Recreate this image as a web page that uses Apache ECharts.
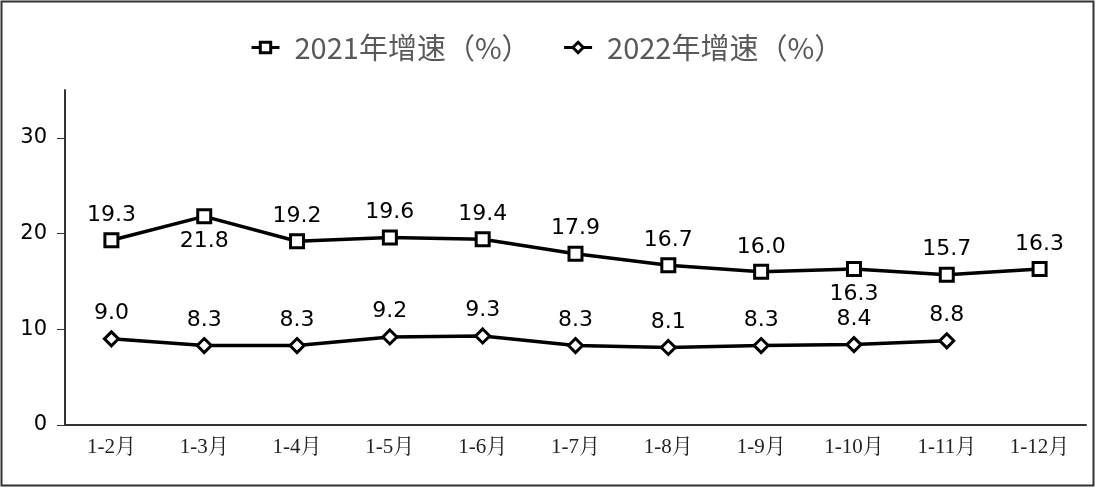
<!DOCTYPE html>
<html><head><meta charset="utf-8">
<script src="https://cdn.jsdelivr.net/npm/echarts@6/dist/echarts.min.js"></script>
<style>html,body{margin:0;padding:0;background:#fff}#c{width:1096px;height:488px}</style>
</head><body><div id="c"></div>
<script>
const categories = ['1-2月','1-3月','1-4月','1-5月','1-6月','1-7月','1-8月','1-9月','1-10月','1-11月','1-12月'];
const growth2021 = [19.3,21.8,19.2,19.6,19.4,17.9,16.7,16.0,16.3,15.7,16.3];
const growth2022 = [9.0,8.3,8.3,9.2,9.3,8.3,8.1,8.3,8.4,8.8,null];
const yTicks = [0,10,20,30];
const labelBelow2021 = ['1-3月','1-10月'];

const chart = echarts.init(document.getElementById('c'));
const lbl = {show:true,fontFamily:'DejaVu Sans',fontSize:22,color:'#000',distance:6,formatter:p=>p.value==null?'':p.value.toFixed(1)};
chart.setOption({
  animation:false,
  graphic:[{type:'rect',shape:{x:1.5,y:1.5,width:1092,height:484},style:{fill:'none',stroke:'#333',lineWidth:2},silent:true}],
  legend:{top:28,left:245,itemWidth:28,itemHeight:13,itemGap:32,
    itemStyle:{borderWidth:3},lineStyle:{width:3},
    textStyle:{fontFamily:'Noto Sans CJK SC',fontSize:29,color:'#595959',padding:[0,0,0,10]}},
  grid:{left:65,right:10,top:90,bottom:63},
  xAxis:{type:'category',data:categories,boundaryGap:true,
    axisLine:{lineStyle:{color:'#333',width:2}},axisTick:{show:false},
    axisLabel:{fontFamily:'Liberation Serif, Noto Serif CJK SC, serif',fontSize:21,color:'#222',margin:12}},
  yAxis:{type:'value',min:0,max:35,interval:10,
    axisLine:{show:true,lineStyle:{color:'#333',width:2}},
    axisTick:{show:true,length:8,lineStyle:{color:'#333'},customValues:yTicks},
    axisLabel:{fontFamily:'DejaVu Sans',fontSize:21,color:'#000',margin:18,customValues:yTicks},
    splitLine:{show:false}},
  series:[
    {name:'2021年增速（%）',type:'line',data:growth2021.map((v,i)=>labelBelow2021.includes(categories[i])?{value:v,label:{position:'bottom'}}:v),
     symbol:'rect',symbolSize:13,showAllSymbol:true,
     lineStyle:{color:'#000',width:3.5},itemStyle:{color:'#fff',borderColor:'#000',borderWidth:3},
     label:Object.assign({position:'top'},lbl)},
    {name:'2022年增速（%）',type:'line',data:growth2022,
     symbol:'diamond',symbolSize:14,showAllSymbol:true,connectNulls:false,
     lineStyle:{color:'#000',width:3.5},itemStyle:{color:'#fff',borderColor:'#000',borderWidth:3},
     label:Object.assign({position:'top'},lbl)}
  ]
});
</script></body></html>
